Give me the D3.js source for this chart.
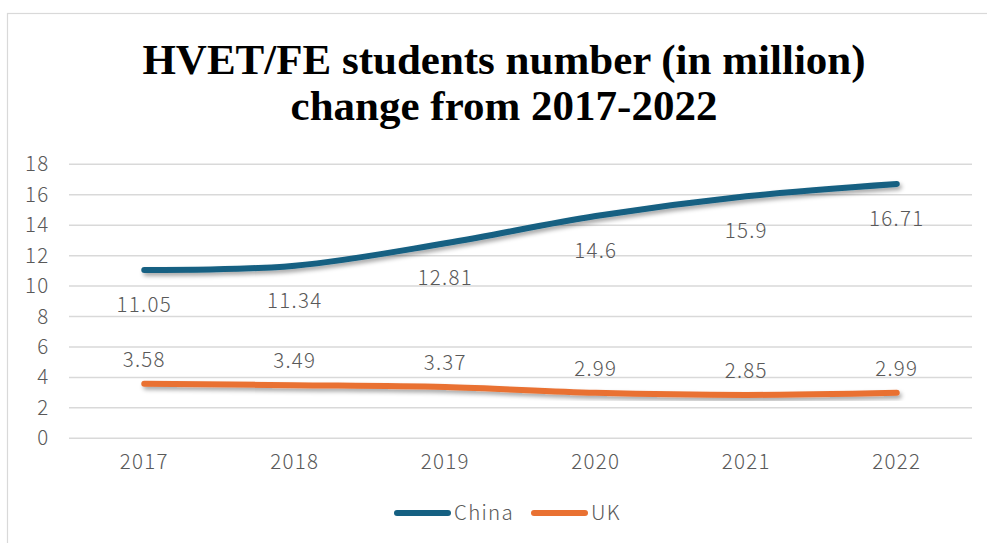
<!DOCTYPE html>
<html>
<head>
<meta charset="utf-8">
<script src="https://cdn.jsdelivr.net/npm/d3@7"></script>
<style>
  html, body { margin: 0; padding: 0; background: #fff; }
  svg { display: block; }
</style>
</head>
<body>
<svg id="chart" width="987" height="543"></svg>
<script>
// Student numbers (million) by year
const years = ["2017", "2018", "2019", "2020", "2021", "2022"];
const chinaValues = [11.05, 11.34, 12.81, 14.6, 15.9, 16.71];
const ukValues = [3.58, 3.49, 3.37, 2.99, 2.85, 2.99];
const yTicks = [0, 2, 4, 6, 8, 10, 12, 14, 16, 18];
const seriesNames = ["China", "UK"];
const titleLines = ["HVET/FE students number (in million)", "change from 2017-2022"];

const colors = { China: "#156082", UK: "#E97132" };
const labelFont = "'Noto Sans CJK SC', 'Noto Sans', sans-serif";
const labelWeight = 300;
const labelSize = 20.5;
const labelSpacing = "1.3px";
const textGray = "#595959";

const svg = d3.select("#chart");
const W = 987, H = 543;
const plot = { left: 69, right: 972, top: 164.3, bottom: 438.3 };

const styleLabel = sel => sel
  .attr("font-family", labelFont).attr("font-weight", labelWeight)
  .attr("font-size", labelSize).attr("letter-spacing", labelSpacing)
  .attr("fill", textGray);

// outer chart frame
svg.append("rect")
  .attr("x", 7.5).attr("y", 13.5)
  .attr("width", W + 20).attr("height", H + 20)
  .attr("fill", "#fff").attr("stroke", "#d9d9d9").attr("stroke-width", 1.2);

// drop shadow for the series lines
const defs = svg.append("defs");
const f = defs.append("filter").attr("id", "shadow")
  .attr("x", "-10%").attr("y", "-50%").attr("width", "120%").attr("height", "200%");
f.append("feDropShadow")
  .attr("dx", 2).attr("dy", 3).attr("stdDeviation", 2.2)
  .attr("flood-color", "#000").attr("flood-opacity", 0.35);

// title
const title = svg.append("text")
  .attr("text-anchor", "middle")
  .attr("font-family", "'Liberation Serif', 'Times New Roman', serif")
  .attr("font-weight", "bold")
  .attr("font-size", 43)
  .attr("fill", "#000");
titleLines.forEach((t, i) => {
  title.append("tspan").attr("x", 504).attr("y", 74 + i * 46).text(t);
});

const x = d3.scaleBand().domain(years).range([plot.left, plot.right]);
const y = d3.scaleLinear().domain([0, 18]).range([plot.bottom, plot.top]);
const cx = d => x(d) + x.bandwidth() / 2;

// horizontal gridlines
svg.append("g")
  .selectAll("line").data(yTicks).join("line")
  .attr("x1", plot.left).attr("x2", plot.right)
  .attr("y1", d => y(d)).attr("y2", d => y(d))
  .attr("stroke", "#d9d9d9").attr("stroke-width", 1.5);

// y axis labels
const yAxis = svg.append("g")
  .attr("transform", `translate(${plot.left},0)`)
  .call(d3.axisLeft(y).tickValues(yTicks).tickSize(0).tickPadding(19.5));
yAxis.select(".domain").remove();
yAxis.selectAll("text").call(styleLabel);

// x axis labels
const xAxis = svg.append("g")
  .attr("transform", `translate(0,${plot.bottom})`)
  .call(d3.axisBottom(x).tickSize(0).tickPadding(16));
xAxis.select(".domain").remove();
xAxis.selectAll("text").call(styleLabel);

// series lines
const line = d3.line()
  .x((d, i) => cx(years[i]))
  .y(d => y(d))
  .curve(d3.curveCardinal.tension(0));

const series = [
  { name: "China", values: chinaValues, dy: 35 },
  { name: "UK", values: ukValues, dy: -24 }
];

series.forEach(s => {
  svg.append("path")
    .datum(s.values)
    .attr("d", line)
    .attr("fill", "none")
    .attr("stroke", colors[s.name])
    .attr("stroke-width", 6)
    .attr("stroke-linecap", "round")
    .attr("stroke-linejoin", "round")
    .attr("filter", "url(#shadow)");
});

// data labels
series.forEach(s => {
  svg.append("g").selectAll("text").data(s.values).join("text")
    .attr("x", (d, i) => cx(years[i]))
    .attr("y", d => y(d) + s.dy)
    .attr("dy", "0.35em")
    .attr("text-anchor", "middle")
    .call(styleLabel)
    .text(d => d);
});

// legend
const legendItems = [
  { name: "China", x0: 394 },
  { name: "UK", x0: 531 }
];
const lg = svg.append("g");
legendItems.forEach(it => {
  lg.append("line")
    .attr("x1", it.x0 + 3).attr("x2", it.x0 + 54)
    .attr("y1", 513).attr("y2", 513)
    .attr("stroke", colors[it.name]).attr("stroke-width", 6)
    .attr("stroke-linecap", "round");
  lg.append("text")
    .attr("x", it.x0 + 60).attr("y", 513).attr("dy", "0.35em")
    .call(styleLabel)
    .text(it.name);
});
</script>
</body>
</html>
